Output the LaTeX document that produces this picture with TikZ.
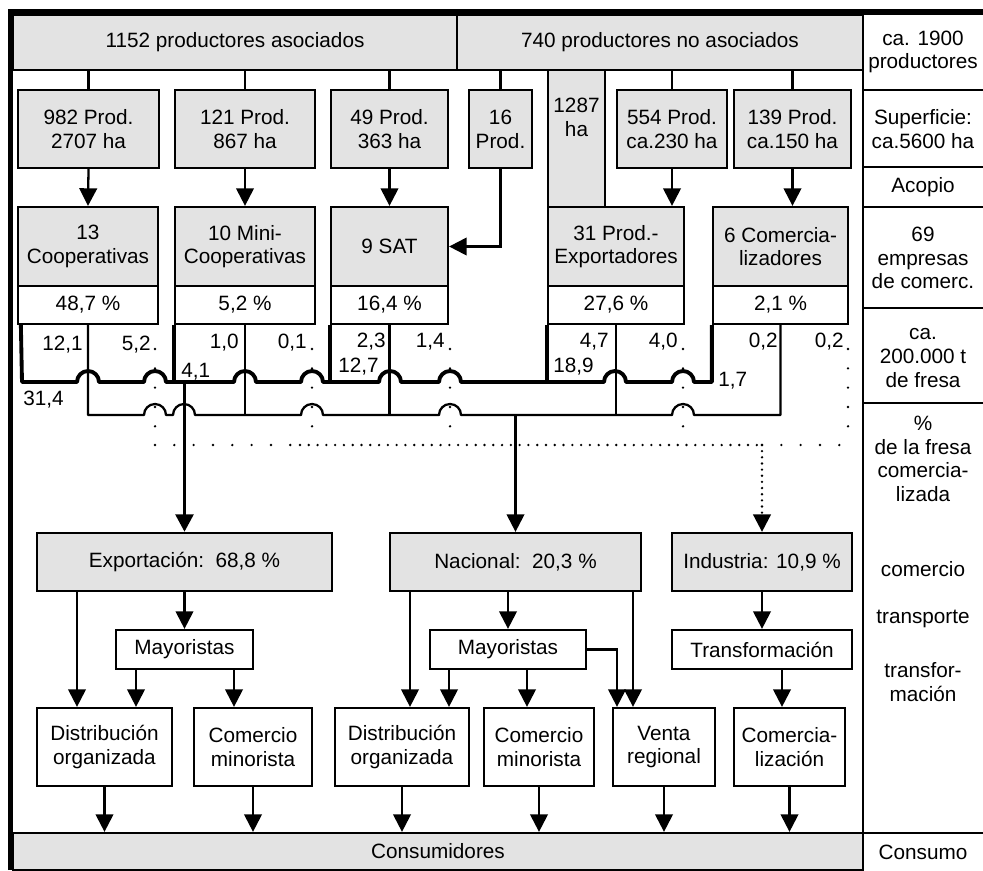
\documentclass[tikz,border=0pt]{standalone}
\usepackage{fontspec}
\setmainfont{Liberation Sans}
\usepackage{tikz}
\usetikzlibrary{arrows.meta}
\tikzstyle{arrow} = [line width=1.3pt,-{Triangle[length=10pt,width=10pt]}]
\tikzstyle{graybox} = [draw,line width=1.3pt,fill=black!11,align=center,inner sep=0pt]
\tikzstyle{whitebox} = [draw,line width=1.3pt,fill=white,align=center,inner sep=0pt]
\tikzstyle{lbl} = [inner sep=0pt,align=center]
\tikzstyle{expline} = [line width=2.2pt,line join=round]
\tikzstyle{natline} = [line width=1.3pt,line join=round]
\tikzstyle{dots} = [line width=1.5pt,line cap=round,dash pattern=on 0pt off 11pt]
\tikzstyle{densedots} = [line width=1.5pt,line cap=round,dash pattern=on 0pt off 5pt]

\begin{document}
\begin{tikzpicture}[x=0.02cm,y=-0.02cm,font=\fontsize{11.8}{13.5}\selectfont]
\useasboundingbox (0,0) rectangle (983,870);

% Productores:
% the two groups on top, the plots below them
\node[graybox,minimum width=8.88cm,minimum height=1.1cm] (aso) at (235,42.5) {1152 productores asociados};
\node[graybox,minimum width=8.12cm,minimum height=1.1cm] (noaso) at (660,42.5) {740 productores no asociados};
\node[graybox,minimum width=1.14cm,minimum height=2.74cm] (ha) at (576.5,138.5) {};
\node[lbl] (hat) at (576.5,117) {1287\\ha};

\node[graybox,minimum width=2.82cm,minimum height=1.56cm] (p1) at (88.5,129) {982 Prod.\\2707 ha};
\node[graybox,minimum width=2.8cm,minimum height=1.56cm] (p2) at (245,129) {121 Prod.\\867 ha};
\node[graybox,minimum width=2.34cm,minimum height=1.56cm] (p3) at (389.5,129) {49 Prod.\\363 ha};
\node[graybox,minimum width=1.26cm,minimum height=1.56cm] (p4) at (500.5,129) {16\\Prod.};
\node[graybox,minimum width=2.2cm,minimum height=1.56cm] (p5) at (672,129) {554 Prod.\\ca.230 ha};
\node[graybox,minimum width=2.34cm,minimum height=1.56cm] (p6) at (792.5,129) {139 Prod.\\ca.150 ha};

\foreach \p in {p1,p2,p3} \draw[natline] (\p.north) -- (\p.north |- aso.south);
\foreach \p in {p4,p5,p6} \draw[natline] (\p.north) -- (\p.north |- noaso.south);

% Acopio:
\node[graybox,minimum width=2.8cm,minimum height=1.58cm] (c1) at (88,246.5) {13\\Cooperativas};
\node[graybox,minimum width=2.8cm,minimum height=1.58cm] (c2) at (245,246.5) {10 Mini-\\Cooperativas};
\node[graybox,minimum width=2.34cm,minimum height=1.58cm] (c3) at (389.5,246.5) {9 SAT};
\node[graybox,minimum width=2.72cm,minimum height=1.58cm] (c4) at (616,246.5) {31 Prod.-\\Exportadores};
\node[graybox,minimum width=2.7cm,minimum height=1.58cm] (c5) at (780.5,246.5) {6 Comercia-\\lizadores};

\node[whitebox,minimum width=2.8cm,minimum height=0.76cm] (c1p) at (88,305) {48,7 \%};
\node[whitebox,minimum width=2.8cm,minimum height=0.76cm] (c2p) at (245,305) {5,2 \%};
\node[whitebox,minimum width=2.34cm,minimum height=0.76cm] (c3p) at (389.5,305) {16,4 \%};
\node[whitebox,minimum width=2.72cm,minimum height=0.76cm] (c4p) at (616,305) {27,6 \%};
\node[whitebox,minimum width=2.7cm,minimum height=0.76cm] (c5p) at (780.5,305) {2,1 \%};

\draw[arrow] (p1.south) -- (c1.north);
\draw[arrow] (p2.south) -- (c2.north);
\draw[arrow] (p3.south) -- (c3.north);
\draw[arrow] (p4.south) |- (c3.east);
\draw[arrow] (p5.south) -- (c4.north -| p5.south);
\draw[arrow] (p6.south) -- (c5.north -| p6.south);

% Levels of the three flows
\coordinate (yex) at (0,382);
\coordinate (ynat) at (0,415);
\coordinate (yind) at (0,445);
\coordinate (d1) at (155,349);
\coordinate (d2) at (312,349);
\coordinate (d3) at (450,349);
\coordinate (d4) at (683,349);
\coordinate (d5) at (848,349);

% Export flow, hops over the other lines
\draw[expline] ([xshift=0.08cm]c1p.south west) -- (22,382)
  -- (77,382) arc[start angle=180,end angle=360,radius=11]
  -- (144,382) arc[start angle=180,end angle=360,radius=11]
  -- (234,382) arc[start angle=180,end angle=360,radius=11]
  -- (301,382) arc[start angle=180,end angle=360,radius=11]
  -- (379,382) arc[start angle=180,end angle=360,radius=11]
  -- (439,382) arc[start angle=180,end angle=360,radius=11]
  -- (604,382) arc[start angle=180,end angle=360,radius=11]
  -- (672,382) arc[start angle=180,end angle=360,radius=11]
  -- (c5p.south west |- yex) -- (c5p.south west);
\foreach \c in {c2p,c3p,c4p} \draw[expline] (\c.south west) -- (\c.south west |- yex);

% National flow
\draw[natline] (c1p.south) -- (c1p.south |- ynat)
  -- (144,415) arc[start angle=180,end angle=360,radius=11]
  -- (173,415) arc[start angle=180,end angle=360,radius=11]
  -- (301,415) arc[start angle=180,end angle=360,radius=11]
  -- (439,415) arc[start angle=180,end angle=360,radius=11]
  -- (672,415) arc[start angle=180,end angle=360,radius=11]
  -- (c5p.south |- ynat) -- (c5p.south);
\foreach \c in {c2p,c3p,c4p} \draw[natline] (\c.south) -- (\c.south |- ynat);

% Industry flow
\foreach \d in {d1,d2,d3,d4,d5} \draw[dots] (\d) -- (\d |- yind);
\draw[dots] (d1 |- yind) -- (300,445);
\draw[densedots] (300,445) -- (762,445);
\draw[dots] (762,445) -- (d5 |- yind);

% Shares
\node[lbl,anchor=east] (l1n) at (83,345) {12,1};
\node[lbl,anchor=east] (l1i) at (151,345) {5,2};
\node[lbl,anchor=west] (l1e) at (23,400) {31,4};
\node[lbl,anchor=west] (l2e) at (181,372) {4,1};
\node[lbl,anchor=east] (l2n) at (239,343) {1,0};
\node[lbl,anchor=east] (l2i) at (307,343) {0,1};
\node[lbl,anchor=east] (l3n) at (386,342) {2,3};
\node[lbl,anchor=west] (l3e) at (338,367) {12,7};
\node[lbl,anchor=east] (l3i) at (445,342) {1,4};
\node[lbl,anchor=east] (l4n) at (609,342) {4,7};
\node[lbl,anchor=west] (l4e) at (553,367) {18,9};
\node[lbl,anchor=east] (l4i) at (678,342) {4,0};
\node[lbl,anchor=east] (l5n) at (778,342) {0,2};
\node[lbl,anchor=east] (l5i) at (844,342) {0,2};
\node[lbl,anchor=west] (l5e) at (718,381) {1,7};

% Markets:
\node[graybox,minimum width=5.9cm,minimum height=1.16cm] (exp) at (184.5,562) {Exportaci\'on:\ \ 68,8 \%};
\node[graybox,minimum width=5.02cm,minimum height=1.16cm] (nac) at (515.5,562) {Nacional:\ \ 20,3 \%};
\node[graybox,minimum width=3.6cm,minimum height=1.16cm] (ind) at (762,562) {Industria: 10,9 \%};

\draw[arrow,line width=2.2pt] (exp.north |- yex) -- (exp.north);
\draw[arrow] (nac.north |- ynat) -- (nac.north);
\draw[arrow,densedots,dash pattern=on 0pt off 3.5pt] (ind.north |- yind) -- (ind.north);

\node[whitebox,minimum width=2.74cm,minimum height=0.78cm] (may1) at (184.5,649.5) {Mayoristas};
\node[whitebox,minimum width=3.12cm,minimum height=0.78cm] (may2) at (508,649.5) {Mayoristas};
\node[whitebox,minimum width=3.6cm,minimum height=0.78cm] (trans) at (762,649.5) {Transformaci\'on};

\node[whitebox,minimum width=2.7cm,minimum height=1.56cm] (dist1) at (104.5,747) {Distribuci\'on\\organizada};
\node[whitebox,minimum width=2.36cm,minimum height=1.56cm] (com1) at (253,747) {Comercio\\minorista};
\node[whitebox,minimum width=2.68cm,minimum height=1.56cm] (dist2) at (402,747) {Distribuci\'on\\organizada};
\node[whitebox,minimum width=2.2cm,minimum height=1.56cm] (com2) at (539,747) {Comercio\\minorista};
\node[whitebox,minimum width=2.04cm,minimum height=1.56cm] (venta) at (664,747) {Venta\\regional};
\node[whitebox,minimum width=2.22cm,minimum height=1.56cm] (comz) at (789.5,747) {Comercia-\\lizaci\'on};

\coordinate (x1) at (77,0);
\coordinate (x2) at (136,0);
\coordinate (x3) at (234,0);
\coordinate (x4) at (410,0);
\coordinate (x5) at (449,0);
\coordinate (x6) at (527,0);
\coordinate (x7) at (617,0);
\coordinate (x8) at (633,0);
\coordinate (x9) at (782,0);

\draw[arrow] (exp.south -| x1) -- (dist1.north -| x1);
\draw[arrow] (exp.south) -- (may1.north);
\draw[arrow] (may1.south -| x2) -- (dist1.north -| x2);
\draw[arrow] (may1.south -| x3) -- (com1.north -| x3);

\draw[arrow] (nac.south -| x4) -- (dist2.north -| x4);
\draw[arrow] (nac.south -| may2.north) -- (may2.north);
\draw[arrow] (may2.south -| x5) -- (dist2.north -| x5);
\draw[arrow] (may2.south -| x6) -- (com2.north -| x6);
\draw[arrow] (may2.east) -| (venta.north -| x7);
\draw[arrow] (nac.south -| x8) -- (venta.north -| x8);

\draw[arrow] (ind.south) -- (trans.north);
\draw[arrow] (trans.south -| x9) -- (comz.north -| x9);

% Consumo:
\node[graybox,minimum width=17cm,minimum height=0.74cm] (cons) at (438,851.5) {Consumidores};
\foreach \b in {dist1,com1,dist2,com2,venta,comz} \draw[arrow] (\b.south) -- (\b.south |- cons.north);

% Right column
\draw[natline] (863,12) -- (863,870);
\foreach \y in {90,167,207,308,403,833} \draw[natline] (863,\y) -- (983,\y);
\node[lbl] (r1) at (923,52) {ca. 1900\\productores};
\node[lbl] (r2) at (923,129) {Superficie:\\ca.5600 ha};
\node[lbl] (r3) at (923,187) {Acopio};
\node[lbl] (r4) at (923,258) {69\\empresas\\de comerc.};
\node[lbl] (r5) at (923,358) {ca.\\200.000 t\\de fresa};
\node[lbl] (r6) at (923,459) {\%\\de la fresa\\comercia-\\lizada};
\node[lbl] (r7) at (923,569) {comercio};
\node[lbl] (r8) at (923,619) {transporte};
\node[lbl] (r9) at (923,682) {transfor-\\maci\'on};
\node[lbl] (r10) at (923,852) {Consumo};

% Frame
\draw[line width=3.1pt] (10.5,870) -- (10.5,12) -- (983,12);

\end{tikzpicture}
\end{document}
